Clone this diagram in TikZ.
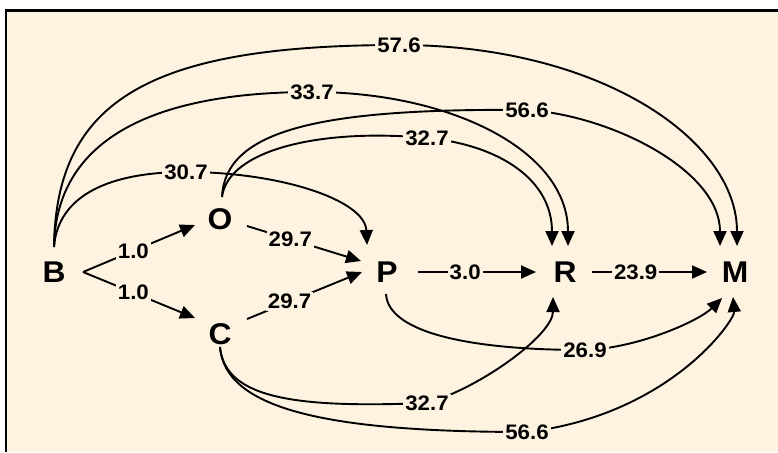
\documentclass[tikz,border=0pt]{standalone}
\usepackage{fontspec}
\setmainfont{Liberation Sans}[FakeStretch=1.06]
\usetikzlibrary{arrows.meta,calc}
\definecolor{cream}{HTML}{FEF2E0}
\begin{document}
\begin{tikzpicture}[x=1pt,y=-1pt,
  nd/.style={font=\fontsize{30}{32}\selectfont\bfseries, inner sep=0pt},
  lbl/.style={fill=cream, inner sep=2pt, font=\fontsize{21}{22}\selectfont\bfseries},
  edge/.style={line width=1.9pt, -{Triangle[length=15pt,width=13pt]}}]
\useasboundingbox (0,0) rectangle (778,452);
\fill[cream] (6,10.5) rectangle (778,452);
\draw[line width=2.5pt] (5.8,452) -- (5.8,10.5) -- (778,10.5);

\node[nd] (B) at (54,272) {B};
\node[nd] (O) at (220,219) {O};
\node[nd] (C) at (220,334) {C};
\node[nd] (P) at (387,272) {P};
\node[nd] (R) at (565,272) {R};
\node[nd] (M) at (735,272) {M};

% straight connectors
\draw[edge] ($(B)+(29,0)$) -- node[lbl,pos=.45]{1.0} ($(O)+(-25,6)$);
\draw[edge] ($(B)+(29,0)$) -- node[lbl,pos=.45]{1.0} ($(C)+(-25,-16)$);
\draw[edge] ($(O)+(27,7)$) -- node[lbl,pos=.38]{29.7} ($(P)+(-26,-11)$);
\draw[edge] ($(C)+(27,-15)$) -- node[lbl,pos=.37]{29.7} ($(P)+(-25,0)$);
\draw[edge] ($(P)+(31,0)$) -- node[lbl,pos=.4]{3.0} ($(R)+(-29,0)$);
\draw[edge] ($(R)+(27,0)$) -- node[lbl,pos=.38]{23.9} ($(M)+(-28,0)$);

% upper curves
\draw[edge] ($(B)+(0,-25)$) .. controls (56,100) and (150,45) .. (399,45) node[lbl]{57.6}
   .. controls (600,45) and (737,140) .. ($(M)+(2,-26)$);
\draw[edge] ($(B)+(0,-25)$) .. controls (56,130) and (170,92) .. (312,92) node[lbl]{33.7}
   .. controls (450,92) and (568,150) .. ($(R)+(3,-26)$);
\draw[edge] ($(B)+(0,-25)$) .. controls (58,195) and (110,172) .. (186,172) node[lbl]{30.7}
   .. controls (280,172) and (365,200) .. ($(P)+(-20,-27)$);
\draw[edge] ($(O)+(2,-22)$) .. controls (228,150) and (320,128) .. (427,138) node[lbl]{32.7}
   .. controls (500,145) and (552,180) .. ($(R)+(-13,-26)$);
\draw[edge] ($(O)+(2,-22)$) .. controls (225,130) and (320,108) .. (527,110) node[lbl]{56.6}
   .. controls (610,115) and (720,170) .. ($(M)+(-15,-26)$);

% lower curves
\draw[edge] ($(P)+(-1,22)$) .. controls (388,330) and (460,350) .. (585,350) node[lbl]{26.9}
   .. controls (640,348) and (700,320) .. ($(M)+(-13,26)$);
\draw[edge] ($(C)+(0,13)$) .. controls (225,400) and (300,408) .. (427,403) node[lbl]{32.7}
   .. controls (480,388) and (553,335) .. ($(R)+(-12,25)$);
\draw[edge] ($(C)+(0,13)$) .. controls (225,410) and (330,432) .. (527,432) node[lbl]{56.6}
   .. controls (670,415) and (735,320) .. ($(M)+(-2,25)$);
\end{tikzpicture}
\end{document}
